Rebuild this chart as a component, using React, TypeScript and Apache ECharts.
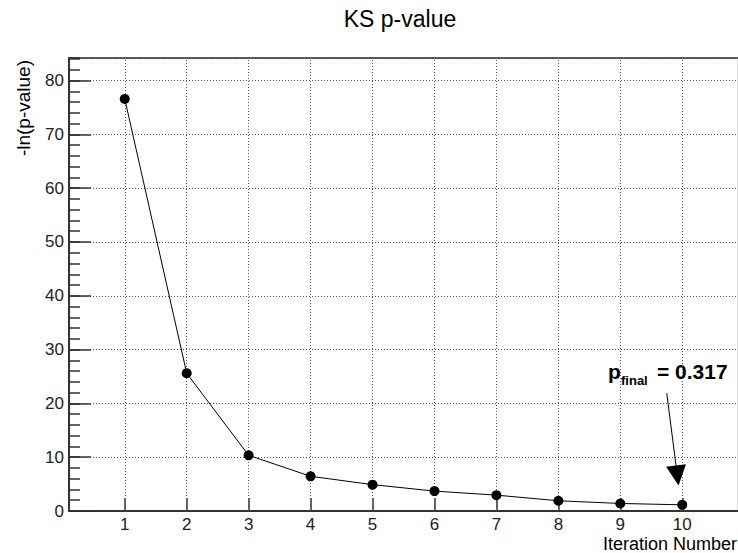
import React, { useEffect, useRef } from "react";
import * as echarts from "echarts";

const iterations = [1, 2, 3, 4, 5, 6, 7, 8, 9, 10];
const negLnP = [76.6, 25.6, 10.35, 6.45, 4.9, 3.7, 2.95, 1.9, 1.4, 1.15];
const xTickValues = [1, 2, 3, 4, 5, 6, 7, 8, 9, 10];
const xRange = [0.1, 10.9];
const yRange = [0, 84.2];
const arrowFrom = [9.75, 21.9];
const arrowTo = [9.92, 6.6];
const titleText = "KS p-value";
const xTitle = "Iteration Number";
const yTitle = "-ln(p-value)";
const pFinal = "0.317";

const FONT = "'Liberation Sans', Arial, Helvetica, sans-serif";
const AXIS_COLOR = "#333";
const GRID_DOT = "#555";

export default function App() {
  const ref = useRef<HTMLDivElement>(null);
  useEffect(() => {
    if (!ref.current) return;
    const chart = echarts.init(ref.current, undefined, { renderer: "svg" });
    const points = iterations.map((x, i) => [x, negLnP[i]]);
    chart.setOption({
      animation: false,
      backgroundColor: "#fff",
      textStyle: { fontFamily: FONT },
      grid: {
        left: 69,
        top: 58,
        width: 669,
        height: 453,
        show: true,
        borderColor: "#bbb",
        borderWidth: 1,
        backgroundColor: "transparent",
      },
      xAxis: [
        {
          type: "value",
          min: xRange[0],
          max: xRange[1],
          axisLine: { show: true, onZero: false, lineStyle: { color: AXIS_COLOR, width: 2 } },
          axisTick: {
            show: true,
            inside: true,
            length: 13,
            customValues: xTickValues,
            lineStyle: { color: AXIS_COLOR, width: 1.5 },
          },
          axisLabel: {
            customValues: xTickValues,
            fontSize: 17,
            color: "#222",
            margin: 5,
            fontFamily: FONT,
          },
          splitLine: { show: false },
        },
        {
          type: "value",
          position: "top",
          min: xRange[0],
          max: xRange[1],
          axisLine: { show: true, onZero: false, lineStyle: { color: AXIS_COLOR, width: 1.5 } },
          axisTick: { show: false },
          axisLabel: { show: false },
          splitLine: { show: false },
        },
      ],
      yAxis: [
        {
          type: "value",
          min: yRange[0],
          max: yRange[1],
          interval: 10,
          axisLine: { show: true, onZero: false, lineStyle: { color: AXIS_COLOR, width: 2 } },
          axisTick: { show: true, inside: true, length: 22, lineStyle: { color: AXIS_COLOR, width: 1.5 } },
          axisLabel: {
            fontSize: 17,
            color: "#222",
            margin: 5,
            showMaxLabel: false,
            fontFamily: FONT,
          },
          splitLine: { show: true, lineStyle: { color: GRID_DOT, width: 1, type: [1, 2] } },
        },
        {
          type: "value",
          position: "left",
          min: yRange[0],
          max: yRange[1],
          interval: 2,
          axisLine: { show: false },
          axisTick: { show: true, inside: true, length: 11, lineStyle: { color: AXIS_COLOR, width: 1.5 } },
          axisLabel: { show: false },
          splitLine: { show: false },
        },
      ],
      series: [
        {
          type: "line",
          xAxisIndex: 0,
          yAxisIndex: 0,
          data: points,
          symbol: "circle",
          symbolSize: 10,
          itemStyle: { color: "#000" },
          lineStyle: { color: "#000", width: 1 },
          z: 5,
          markLine: {
            silent: true,
            symbol: ["none", "none"],
            label: { show: false },
            lineStyle: { color: GRID_DOT, width: 1, type: [1, 2] },
            data: xTickValues.map((v) => ({ xAxis: v })),
            z: 1,
          },
        },
        {
          type: "line",
          xAxisIndex: 0,
          yAxisIndex: 0,
          data: [],
          markLine: {
            silent: true,
            symbol: ["none", "triangle"],
            symbolSize: [20, 20],
            label: { show: false },
            lineStyle: { color: "#000", width: 1, type: "solid" },
            itemStyle: { color: "#000" },
            data: [[{ coord: arrowFrom }, { coord: arrowTo }]],
          },
        },
      ],
      graphic: [
        {
          type: "text",
          x: 400,
          y: 19,
          style: {
            text: titleText,
            font: `23px ${FONT}`,
            fill: "#000",
            align: "center",
            verticalAlign: "middle",
          },
        },
        {
          type: "text",
          x: 737,
          y: 544,
          style: {
            text: xTitle,
            font: `18px ${FONT}`,
            fill: "#000",
            align: "right",
            verticalAlign: "middle",
          },
        },
        {
          type: "text",
          x: 23,
          y: 60,
          rotation: Math.PI / 2,
          style: {
            text: yTitle,
            font: `19px ${FONT}`,
            fill: "#000",
            align: "right",
            verticalAlign: "middle",
          },
        },
        {
          type: "text",
          x: 608,
          y: 371,
          style: { text: "p", font: `bold 21px ${FONT}`, fill: "#000", align: "left", verticalAlign: "middle" },
        },
        {
          type: "text",
          x: 621,
          y: 380,
          style: { text: "final", font: `bold 13px ${FONT}`, fill: "#000", align: "left", verticalAlign: "middle" },
        },
        {
          type: "text",
          x: 657,
          y: 371,
          style: { text: "= " + pFinal, font: `bold 21px ${FONT}`, fill: "#000", align: "left", verticalAlign: "middle" },
        },
      ],
    });
    return () => chart.dispose();
  }, []);
  return (
    <div
      ref={ref}
      style={{ position: "fixed", left: 0, top: 0, width: 738, height: 553 }}
    />
  );
}
